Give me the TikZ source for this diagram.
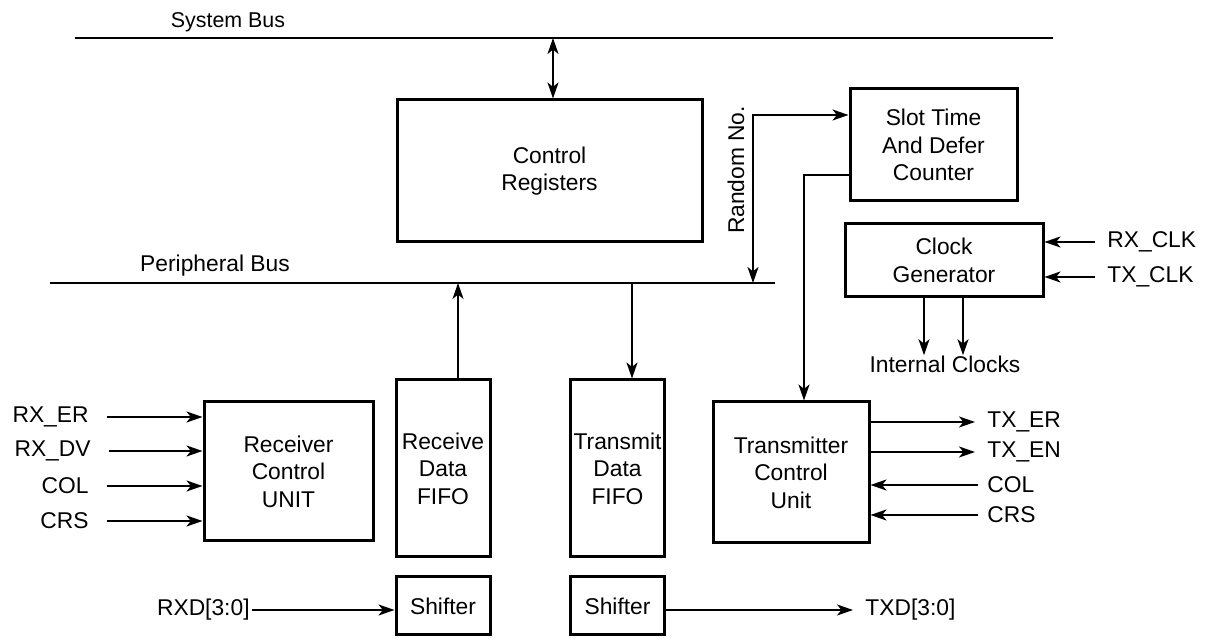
\documentclass[tikz,border=0pt]{standalone}
\usepackage{fontspec}
\setmainfont{Liberation Sans}
\usetikzlibrary{arrows.meta,positioning}

\begin{document}
\begin{tikzpicture}[
  x=0.5pt,y=-0.5pt,
  font=\fontsize{11.4}{13.7}\selectfont,
  box/.style={draw,line width=1.5pt,align=center,inner sep=0pt},
  lbl/.style={inner sep=0pt},
  ar/.style={line width=1pt,-{Stealth[length=8pt,width=5.5pt,inset=2.2pt]}},
  dar/.style={line width=1pt,{Stealth[length=8pt,width=5.5pt,inset=2.2pt]}-{Stealth[length=8pt,width=5.5pt,inset=2.2pt]}}]
\useasboundingbox (0,0) rectangle (1206,640);
% buses
\coordinate (sb1) at (75,38);  \coordinate (sb2) at (1053,38);
\coordinate (pb1) at (50,283); \coordinate (pb2) at (775,283);
\draw[line width=1pt] (sb1) -- (sb2);
\draw[line width=1pt] (pb1) -- (pb2);
\node[lbl,font=\fontsize{10.7}{13}\selectfont] (sbl) at (228,22) {System Bus};
\node[lbl] (pbl) at (215,266) {Peripheral Bus};
% blocks
\node[box,minimum width=152.5pt,minimum height=71pt] (ctrl) at (549.5,171) {Control\\Registers};
\node[box,minimum width=83.5pt,minimum height=56pt] (slot) at (933.5,145) {Slot Time\\And Defer\\Counter};
\node[box,minimum width=99pt,minimum height=36.5pt] (clk) at (944,260.5) {Clock\\Generator};
\node[box,minimum width=84.5pt,minimum height=69.5pt] (rcu) at (288.5,471.5) {Receiver\\Control\\UNIT};
\node[box,minimum width=47pt,minimum height=88.5pt] (rfifo) at (443,468.5) {Receive\\Data\\FIFO};
\node[box,minimum width=47pt,minimum height=88.5pt] (tfifo) at (617.5,468.5) {Transmit\\Data\\FIFO};
\node[box,minimum width=78pt,minimum height=70.5pt] (tcu) at (791,472.5) {Transmitter\\Control\\Unit};
\node[box,minimum width=47pt,minimum height=29pt] (rsh) at (443,606) {Shifter};
\node[box,minimum width=47pt,minimum height=29pt] (tsh) at (617.5,606) {Shifter};
% system bus <-> registers
\coordinate (sbc) at (553,38);
\draw[dar] (sbc) -- (sbc |- ctrl.north);
% random number
\coordinate (rnb) at (753,283);
\draw[dar] (rnb) |- ([yshift=15pt]slot.west);
\node[lbl,rotate=90] (rnl) at (736,170) {Random No.};
\draw[ar] ([yshift=-15pt]slot.west) -| ([xshift=6.5pt]tcu.north);
% clocks
\node[lbl,anchor=west] (rxclk) at (1107,242) {RX\_CLK};
\node[lbl,anchor=west] (txclk) at (1107,277) {TX\_CLK};
\draw[ar,shorten <=6pt] (rxclk.west) -- (rxclk -| clk.east);
\draw[ar,shorten <=6pt] (txclk.west) -- (txclk -| clk.east);
\node[lbl] (iclk) at (945,364) {Internal Clocks};
\draw[ar] ([xshift=-10pt]clk.south) -- ([xshift=-10pt]clk.south |- iclk.north);
\draw[ar] ([xshift=9.5pt]clk.south) -- ([xshift=9.5pt]clk.south |- iclk.north);
% fifos and peripheral bus
\draw[ar] ([xshift=7.5pt]rfifo.north) -- ([xshift=7.5pt]rfifo.north |- pb1);
\draw[ar] ([xshift=7.25pt]tfifo.north |- pb1) -- ([xshift=7.25pt]tfifo.north);
% receiver inputs
\node[lbl,anchor=east] (rxer) at (89,417) {RX\_ER};
\node[lbl,anchor=east] (rxdv) at (91,451) {RX\_DV};
\node[lbl,anchor=east] (rcol) at (89,486) {COL};
\node[lbl,anchor=east] (rcrs) at (89,521) {CRS};
\foreach \n in {rxer,rxdv,rcol,rcrs}
  \draw[ar,shorten <=9pt] (\n.east) -- (\n -| rcu.west);
% transmitter signals
\node[lbl,anchor=west] (txer) at (987,422) {TX\_ER};
\node[lbl,anchor=west] (txen) at (987,452) {TX\_EN};
\node[lbl,anchor=west] (tcol) at (987,485) {COL};
\node[lbl,anchor=west] (tcrs) at (987,515) {CRS};
\draw[ar,shorten >=6pt] (txer -| tcu.east) -- (txer.west);
\draw[ar,shorten >=6pt] (txen -| tcu.east) -- (txen.west);
\draw[ar,shorten <=4.5pt] (tcol.west) -- (tcol -| tcu.east);
\draw[ar,shorten <=4.5pt] (tcrs.west) -- (tcrs -| tcu.east);
% data paths
\node[lbl,anchor=east] (rxd) at (250,610) {RXD[3:0]};
\node[lbl,anchor=west] (txd) at (865,610) {TXD[3:0]};
\draw[ar,shorten <=1pt] (rxd.east) -- (rxd -| rsh.west);
\draw[ar,shorten >=6pt] (txd -| tsh.east) -- (txd.west);
\end{tikzpicture}
\end{document}
